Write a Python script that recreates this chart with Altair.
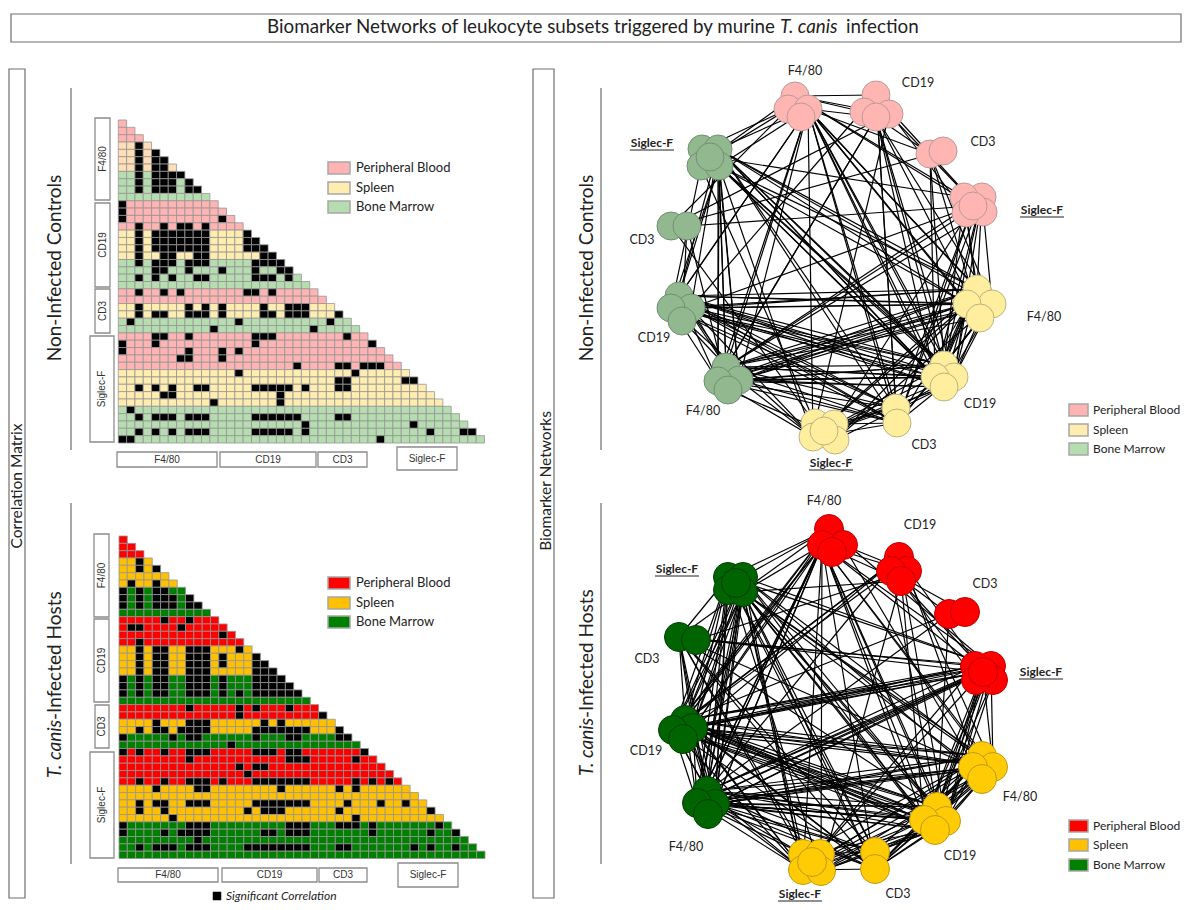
import altair as alt
import pandas as pd

FONT = "Lato"

# rows of the triangular matrices: row r has cells 0..r
row_tissue = (["PB"] * 3 + ["SP"] * 4 + ["BM"] * 4 + ["PB"] * 4 + ["SP"] * 4 + ["BM"] * 4 +
              ["PB"] * 2 + ["SP"] * 2 + ["BM"] * 2 + ["PB"] * 5 + ["SP"] * 5 + ["BM"] * 5)

control_sig = {
    3: [2], 4: [2, 4], 5: [2, 4, 5], 6: [2, 4, 5], 7: [2, 4, 5, 6, 7], 8: [2, 4, 5, 6, 8],
    9: [2, 4, 5, 6, 8, 9], 11: [0], 12: [0], 13: [0, 12], 14: [2, 5, 7, 8, 10],
    15: [2, 4, 5, 6, 7, 8, 9, 10, 15], 16: [2, 4, 5, 6, 7, 8, 9, 10, 15, 16],
    17: [2, 4, 5, 6, 7, 8, 9, 10, 15, 16, 17], 18: [2, 5, 6, 9, 10, 17, 18],
    19: [2, 4, 5, 6, 8, 9, 10, 16, 17, 18, 19], 20: [4, 5, 8, 12, 16, 19, 20],
    21: [2, 4, 6, 9, 10, 16, 17, 18, 20], 23: [2, 5, 7, 15, 16, 18],
    25: [2, 8, 10, 12, 17, 20, 21, 22], 26: [2, 4, 5, 8, 9, 10, 12, 17, 18, 20, 21, 22, 26],
    27: [1, 14, 25], 28: [11, 23], 29: [4, 5, 8, 16, 17, 18, 27], 30: [0, 4, 16, 30],
    31: [0, 8, 12, 14], 32: [7, 8, 12], 33: [21, 26, 27, 29, 30, 31], 34: [14, 28],
    35: [26, 27, 34, 35], 36: [2, 4, 6, 9, 10, 16, 17, 18, 19, 20, 22, 26, 27],
    37: [5, 6, 19], 38: [11, 19], 39: [1],
    40: [2, 4, 5, 6, 8, 9, 10, 16, 17, 18, 19, 20, 21, 26, 27], 41: [22, 35],
    42: [2, 4, 6, 8, 9, 10, 16, 17, 18, 19, 20, 22, 37, 41, 42], 43: [0, 1, 31],
}

infected_sig = {
    3: [2], 4: [2, 4], 6: [1, 4], 7: [0, 2, 4, 5], 8: [0, 2, 4, 5, 6, 8],
    9: [0, 2, 4, 5, 6, 8, 9], 11: [5, 8], 12: [1, 2, 7], 13: [12], 14: [2],
    15: [2, 4, 5, 8, 9, 10, 14], 16: [2, 4, 5, 8, 9, 10, 12, 16],
    17: [2, 4, 5, 8, 9, 10, 12, 16, 17], 18: [2, 4, 5, 8, 9, 10, 16, 17, 18],
    19: [0, 2, 4, 5, 8, 9, 10, 12, 16, 17, 18, 19],
    20: [0, 2, 4, 5, 8, 9, 10, 12, 16, 17, 18, 19, 20],
    21: [0, 2, 4, 5, 8, 9, 10, 12, 14, 16, 17, 18, 19, 20, 21],
    23: [8, 14, 16, 20], 24: [14, 24], 25: [4, 8, 9, 10, 17, 19],
    26: [2, 4, 5, 7, 8, 9, 10, 16, 17, 18, 19, 20, 21, 22, 26],
    27: [0, 6, 8, 9, 16, 20, 21, 26, 27], 28: [13],
    29: [0, 2, 5, 8, 9, 10, 16, 17, 18, 20, 21, 29], 30: [8, 20, 21, 22, 28],
    31: [14, 16, 17], 32: [15], 33: [2, 5, 8, 9, 10, 12, 16, 17, 18, 19, 20, 21, 22, 28, 30, 32],
    34: [4, 9, 10, 19, 26, 28], 36: [2, 4, 5, 8, 9, 10, 16, 17, 18, 19, 20, 21, 22, 27, 31, 34],
    37: [2, 5, 15, 17, 18, 19, 26, 37], 38: [6, 28],
    39: [0, 8, 9, 10, 20, 21, 22, 26, 27, 28, 30, 38],
    40: [0, 5, 7, 8, 9, 10, 17, 18, 20, 21, 22, 30, 37, 40], 41: [9],
    42: [2, 4, 5, 6, 8, 9, 10, 15, 16, 17, 18, 19, 20, 21, 22, 26, 27, 35, 37, 40],
}

# biomarker order: F4/80, CD19, CD3, Siglec-F, each PB, SP, BM
control_clusters = [
    [(795, 96), (788, 109), (808, 109), (801, 117)],
    [(977, 289), (992, 304), (967, 304), (980, 318)],
    [(726, 367), (739, 380), (718, 381), (728, 390)],
    [(876, 95), (864, 112), (889, 114), (876, 117)],
    [(944, 365), (954, 377), (935, 377), (944, 387)],
    [(679, 296), (691, 308), (671, 308), (682, 321)],
    [(930, 154), (943, 151)],
    [(896, 408), (897, 423)],
    [(671, 226), (687, 226)],
    [(982, 197), (964, 197), (983, 212), (966, 213), (973, 206)],
    [(815, 423), (834, 424), (813, 437), (835, 440), (824, 431)],
    [(702, 149), (718, 149), (701, 166), (719, 166), (710, 157)],
]
infected_clusters = [
    [(829, 529), (843, 545), (822, 545), (832, 552)],
    [(982, 756), (993, 767), (973, 767), (982, 779)],
    [(707, 791), (715, 804), (697, 803), (708, 814)],
    [(899, 557), (907, 571), (891, 571), (901, 581)],
    [(937, 807), (946, 821), (924, 820), (935, 830)],
    [(685, 720), (693, 728), (673, 730), (683, 739)],
    [(949, 614), (965, 612)],
    [(875, 852), (875, 869)],
    [(679, 637), (696, 640)],
    [(991, 666), (975, 666), (993, 680), (976, 680), (983, 672)],
    [(803, 854), (820, 854), (803, 870), (821, 871), (812, 862)],
    [(728, 577), (743, 577), (728, 590), (743, 592), (736, 583)],
]
cluster_tissue = ["PB", "SP", "BM"] * 4

cell_control = {"PB": "#FFB3B3", "SP": "#FFEDB0", "BM": "#B5DDB0", "PEACH": "#FFDDB5"}
cell_infected = {"PB": "#FF0000", "SP": "#FFC000", "BM": "#008000"}
node_control = {"PB": ("#FFB6B3", "#B89A98"), "SP": ("#FFEE9E", "#BDB27E"), "BM": ("#92B88F", "#6F9070")}
node_infected = {"PB": ("#FF0000", "#C00000"), "SP": ("#FFCB05", "#BF9A10"), "BM": ("#006400", "#003F00")}

control_boxes = [(95, 118, 110, 200, "F4/80"), (95, 203, 110, 287, "CD19"), (95, 289, 110, 333, "CD3"),
                 (90, 336, 114, 442, "Siglec-F")]
control_cols = [(117, 452, 217, 467, "F4/80"), (220, 452, 316, 467, "CD19"), (318, 452, 367, 467, "CD3"),
                (397, 447, 457, 470, "Siglec-F")]
infected_boxes = [(94, 534, 109, 617, "F4/80"), (94, 619, 109, 702, "CD19"), (95, 705, 109, 748, "CD3"),
                  (90, 752, 114, 858, "Siglec-F")]
infected_cols = [(118, 868, 218, 882, "F4/80"), (222, 868, 317, 882, "CD19"), (319, 868, 367, 882, "CD3"),
                 (398, 863, 458, 887, "Siglec-F")]

control_labels = [("F4/80", 805, 71), ("CD19", 918, 83), ("CD3", 983, 142), ("F4/80", 1044, 317), ("CD19", 980, 404),
                  ("CD3", 924, 445), ("F4/80", 703, 411), ("CD19", 654, 338), ("CD3", 642, 240)]
control_bold = [(1042, 210), (831, 463), (652, 143)]
infected_labels = [("F4/80", 824, 501), ("CD19", 920, 525), ("CD3", 985, 584), ("F4/80", 1020, 797), ("CD19", 960, 856),
                   ("CD3", 898, 894), ("F4/80", 686, 847), ("CD19", 646, 751), ("CD3", 647, 659)]
infected_bold = [(1041, 672), (800, 894), (677, 569)]

X = alt.Scale(domain=[8, 1183], nice=False, zero=False)
Y = alt.Scale(domain=[8, 902], nice=False, zero=False, reverse=True)


def xe(f):
    return alt.X(f, type="quantitative", scale=X, axis=None)


def ye(f):
    return alt.Y(f, type="quantitative", scale=Y, axis=None)


def boxes(rows, fill="white", stroke="#7f7f7f", sw=1.2):
    df = pd.DataFrame(rows, columns=["x", "y", "x2", "y2"])
    return alt.Chart(df).mark_rect(fill=fill, stroke=stroke, strokeWidth=sw).encode(
        x=xe("x"), x2="x2", y=ye("y"), y2="y2")


def text(rows, size=12, angle=0, align="center", color="#222222", font=FONT, **kw):
    df = pd.DataFrame(rows, columns=["t", "x", "y"])
    return alt.Chart(df).mark_text(font=font, fontSize=size, angle=angle, align=align, baseline="middle",
                                   color=color, **kw).encode(x=xe("x"), y=ye("y"), text="t:N")


def matrix(sig, palette, x0, x1, y0, y1, peach=False):
    recs = []
    for r, t in enumerate(row_tissue):
        for c in range(r + 1):
            key = "PEACH" if (peach and 3 <= r <= 6) else t
            fill = "#000000" if c in sig.get(r, []) else palette[key]
            recs.append({"c": c, "c2": c + 1, "r": r, "r2": r + 1, "fill": fill})
    sx = alt.Scale(domain=[0, 44], range=[x0 - 8, x1 - 8], nice=False, zero=False)
    sy = alt.Scale(domain=[0, 44], range=[y0 - 8, y1 - 8], nice=False, zero=False)
    return alt.Chart(pd.DataFrame(recs)).mark_rect(stroke="#969696", strokeWidth=0.8).encode(
        x=alt.X("c:Q", scale=sx, axis=None), x2="c2",
        y=alt.Y("r:Q", scale=sy, axis=None), y2="r2",
        fill=alt.Fill("fill:N", scale=None))


def network(clusters, sig, palette, r):
    nodes = [p for cl in clusters for p in cl]
    tissue = [t for cl, t in zip(clusters, cluster_tissue) for _ in cl]
    e = []
    for row, cols in sig.items():
        for c in cols:
            a, b = nodes[row + 1], nodes[c]
            e.append({"x": a[0], "y": a[1], "x2": b[0], "y2": b[1]})
    edges = alt.Chart(pd.DataFrame(e)).mark_rule(color="#000000", strokeWidth=1.2).encode(
        x=xe("x"), y=ye("y"), x2="x2", y2="y2")
    nd = pd.DataFrame([{"x": p[0], "y": p[1], "fill": palette[t][0], "stroke": palette[t][1]}
                       for p, t in zip(nodes, tissue)])
    pts = alt.Chart(nd).mark_point(filled=True, opacity=1, size=4 * r * r, strokeWidth=1).encode(
        x=xe("x"), y=ye("y"),
        fill=alt.Fill("fill:N", scale=None), stroke=alt.Stroke("stroke:N", scale=None))
    return [edges, pts]


def legend(x, y_list, palette_fill, stroke="#A6A6A6", gap=28, size=13, w=22):
    names = ["Peripheral Blood", "Spleen", "Bone Marrow"]
    out = []
    for y, f in zip(y_list, palette_fill):
        out.append(boxes([(x, y - 6, x + w, y + 6)], fill=f, stroke=stroke, sw=1.5))
    out.append(text([(n, x + gap, y) for n, y in zip(names, y_list)], size=size, align="left"))
    return out


def boxed_labels(rows, cols):
    out = [boxes([b[:4] for b in rows + cols], stroke="#8c8c8c", sw=1.3)]
    out.append(text([(b[4], (b[0] + b[2]) / 2, (b[1] + b[3]) / 2) for b in rows], size=10, angle=270,
                    font="Liberation Sans", color="#333333"))
    out.append(text([(b[4], (b[0] + b[2]) / 2, (b[1] + b[3]) / 2) for b in cols], size=10,
                    font="Liberation Sans", color="#333333"))
    return out


def underline_labels(rows):
    out = [text([("Siglec-F", x, y) for x, y in rows], size=12, fontWeight="bold")]
    df = pd.DataFrame([{"x": x - 22, "x2": x + 22, "y": y + 7} for x, y in rows])
    out.append(alt.Chart(df).mark_rule(color="#222222", strokeWidth=1).encode(x=xe("x"), x2="x2", y=ye("y")))
    return out


def vrules(rows):
    df = pd.DataFrame(rows, columns=["x", "y", "y2"])
    return alt.Chart(df).mark_rule(color="#6b6b6b", strokeWidth=1.2).encode(x=xe("x"), y=ye("y"), y2="y2")


layers = []
layers.append(boxes([(11, 14, 1181, 42), (9, 69, 25, 898), (533, 69, 554, 898)], stroke="#6f6f6f", sw=1.2))
layers.append(text([("Biomarker Networks of leukocyte subsets triggered by murine", 775, 27)], size=18.8, align="right"))
layers.append(text([("T. canis", 780, 27)], size=18.8, align="left", fontStyle="italic"))
layers.append(text([("infection", 846, 27)], size=18.8, align="left"))
layers.append(text([("Correlation Matrix", 17, 486), ("Biomarker Networks", 546, 481)], size=15.5, angle=270))
layers.append(text([("Non-Infected Controls", 55, 268), ("Non-Infected Controls", 587, 268)], size=19, angle=270))
layers.append(text([("-Infected Hosts", 55, 720), ("-Infected Hosts", 587, 718)], size=19, angle=270, align="left"))
layers.append(text([("T. canis", 55, 778), ("T. canis", 587, 776)], size=19, angle=270, align="left", fontStyle="italic"))
layers.append(vrules([(71, 88, 450), (71, 503, 864), (601, 88, 450), (601, 503, 864)]))

layers += boxed_labels(control_boxes, control_cols)
layers += boxed_labels(infected_boxes, infected_cols)
layers.append(matrix(control_sig, cell_control, 118.3, 484.5, 120, 443, peach=True))
layers.append(matrix(infected_sig, cell_infected, 119, 485, 536, 858.5))

layers += legend(328, [168, 188, 207], ["#FFB3B3", "#FFEDB0", "#B5DDB0"])
layers += legend(328, [583, 603, 622], ["#FF0000", "#FFC000", "#008000"])
layers += legend(1069, [410, 430, 449], ["#FFB3B3", "#FFEDB0", "#B5DDB0"], gap=24, size=12, w=19)
layers += legend(1069, [826, 845, 865], ["#FF0000", "#FFC000", "#008000"], gap=24, size=12, w=19)
layers.append(boxes([(213, 892, 221, 900)], fill="#000000", stroke="#000000", sw=0.5))
layers.append(text([("Significant Correlation", 226, 896)], size=12, align="left", fontStyle="italic"))

layers += network(control_clusters, control_sig, node_control, 14)
layers += network(infected_clusters, infected_sig, node_infected, 14.5)
layers.append(text(control_labels, size=12.5))
layers.append(text(infected_labels, size=12.5))
layers += underline_labels(control_bold)
layers += underline_labels(infected_bold)

chart = alt.layer(*layers).resolve_scale(x="independent", y="independent").properties(
    width=1175, height=894, padding=0, autosize=alt.AutoSizeParams(type="none")
).configure_view(stroke=None)
chart.save("out.html", embed_options={"renderer": "svg", "actions": False})
